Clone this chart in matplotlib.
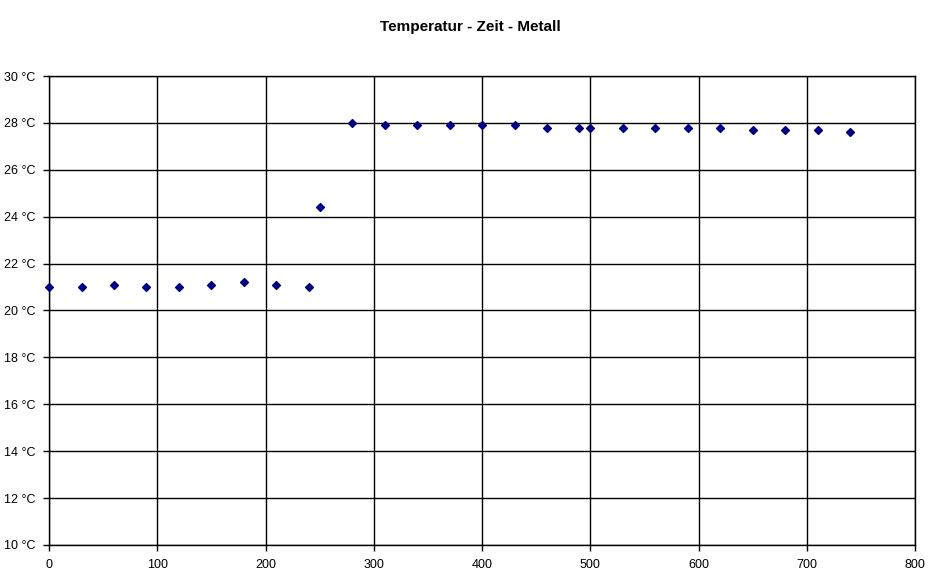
import matplotlib
matplotlib.use('Agg')
import matplotlib.pyplot as plt

plt.rcParams['font.family'] = ['Liberation Sans', 'DejaVu Sans']

# Zeit (s) und Temperatur (°C)
zeit = [0, 30, 60, 90, 120, 150, 180, 210, 240, 250, 280, 310, 340, 370, 400,
        430, 460, 490, 500, 530, 560, 590, 620, 650, 680, 710, 740]
temp = [21.0, 21.0, 21.1, 21.0, 21.0, 21.1, 21.2, 21.1, 21.0, 24.4, 28.0, 27.9,
        27.9, 27.9, 27.9, 27.9, 27.8, 27.8, 27.8, 27.8, 27.8, 27.8, 27.8, 27.7,
        27.7, 27.7, 27.6]
y_ticks = list(range(10, 31, 2))
x_ticks = list(range(0, 801, 100))

fig = plt.figure(figsize=(9.41, 5.86), dpi=100)
ax = fig.add_axes([0.0521, 0.0700, 0.9203, 0.8003])

ax.scatter(zeit, temp, marker='D', s=16, color='#000080', zorder=3, clip_on=False)

ax.set_xlim(0, 800)
ax.set_ylim(10, 30)
ax.set_xticks(x_ticks)
ax.set_yticks(y_ticks)
ax.set_yticklabels(["%d °C" % v for v in y_ticks])
ax.grid(True, color='black', linewidth=1)
ax.set_axisbelow(True)
for s in ax.spines.values():
    s.set_color('black')
    s.set_linewidth(1)
ax.tick_params(direction='out', length=4, width=1, labelsize=9, pad=6)

fig.text(0.5, 1 - 27 / 586, 'Temperatur - Zeit - Metall', ha='center', va='center',
         fontsize=11, fontweight='bold')

fig.savefig('out.png', dpi=100)
